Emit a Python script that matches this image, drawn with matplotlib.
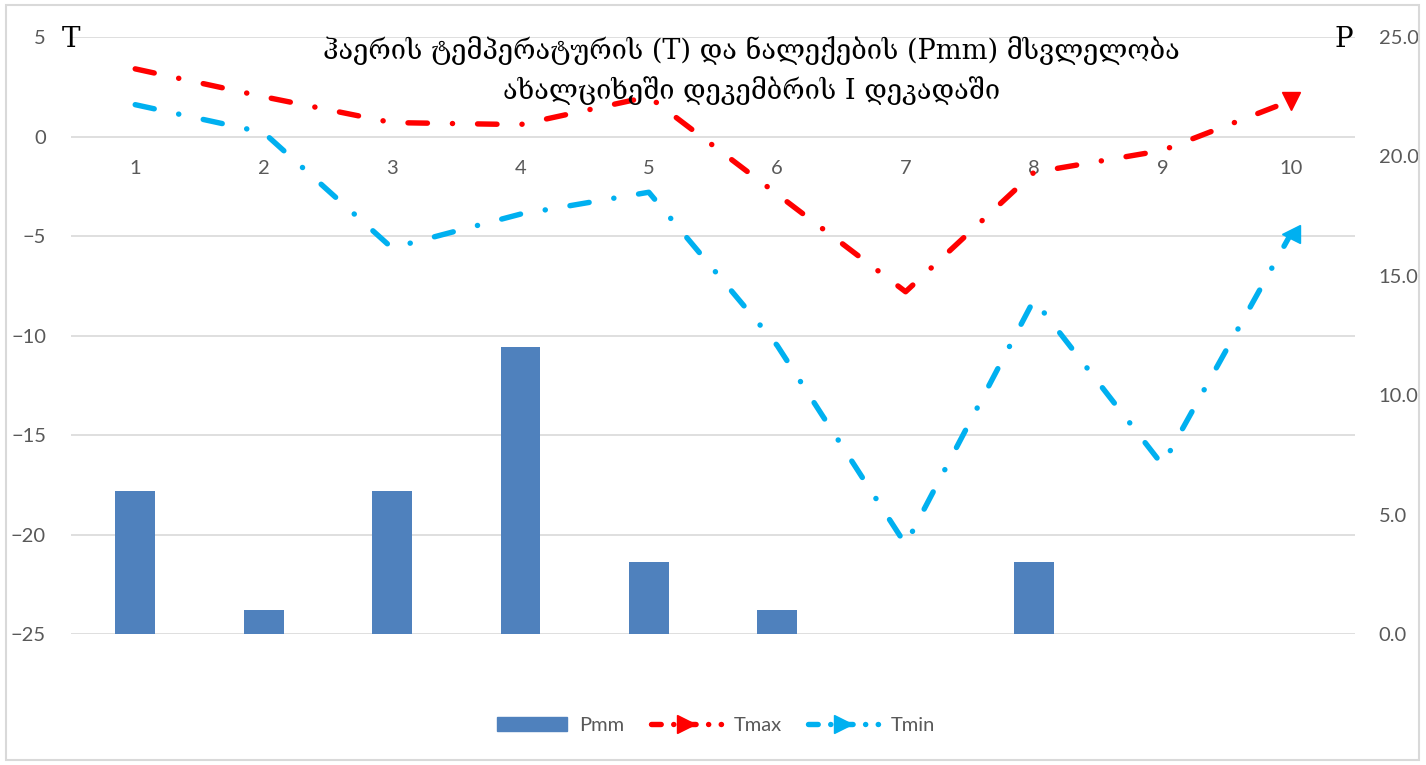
import matplotlib
matplotlib.use('Agg')
import matplotlib.pyplot as plt
import numpy as np
from matplotlib.lines import Line2D
from matplotlib.patches import Patch, Rectangle
from matplotlib.legend_handler import HandlerLine2D

# data
days = [1, 2, 3, 4, 5, 6, 7, 8, 9, 10]
pmm = [6.0, 1.0, 6.0, 12.0, 3.0, 1.0, 0.0, 3.0, 0.0, 0.0]
tmax = [3.4, 2.0, 0.7, 0.6, 2.0, -2.9, -7.8, -1.8, -0.7, 1.8]
tmin = [1.6, 0.2, -5.6, -3.9, -2.8, -10.5, -20.5, -8.2, -16.5, -4.9]
t_ticks = [5, 0, -5, -10, -15, -20, -25]
p_ticks = [0, 5, 10, 15, 20, 25]

title = 'ჰაერის ტემპერატურის (T) და ნალექების (Pmm) მსვლელობა\nახალციხეში დეკემბრის I დეკადაში'

plt.rcParams['font.family'] = ['Lato', 'DejaVu Sans']
plt.rcParams['lines.scale_dashes'] = False
grey = '#595959'
dash = (0, (14, 18, 0.1, 18))


class EndMarker(HandlerLine2D):
    # put the legend marker at the end of the line sample, like an arrow head
    def get_xdata(self, legend, xdescent, ydescent, width, height, fontsize):
        xdata, _ = super().get_xdata(legend, xdescent, ydescent, width, height, fontsize)
        return xdata, [xdata[-1]]


fig = plt.figure(figsize=(14.26, 7.65), dpi=100)
fig.patches.append(Rectangle((0.004, 0.006), 0.991, 0.988, transform=fig.transFigure,
                             fill=False, edgecolor='#d9d9d9', lw=1.5))

rect = [0.0498, 0.1712, 0.9004, 0.7804]
ax = fig.add_axes(rect)          # left T axis + grid, at the back
ax2 = ax.twinx()                 # right P axis with the bars
ax3 = fig.add_axes(rect, sharex=ax, sharey=ax)  # lines on top
ax3.patch.set_visible(False)
ax3.axis('off')

ax2.bar(days, pmm, width=0.31, color='#4F81BD', zorder=2)
ax2.set_ylim(0, 25)
ax2.set_yticks(p_ticks)
ax2.set_yticklabels(['%.1f' % v for v in p_ticks])

ax3.plot(days, tmax, color='#FF0000', lw=3.9, linestyle=dash, dash_capstyle='round',
         marker='v', markevery=[9], markersize=13)
ax3.plot(days, tmin, color='#00B0F0', lw=3.9, linestyle=dash, dash_capstyle='round',
         marker='<', markevery=[9], markersize=13)

ax.set_ylim(-25, 5)
ax.set_xlim(0.5, 10.5)
ax.set_yticks(t_ticks)
ax.set_xticks(days)
ax.grid(axis='y', color='#d9d9d9', lw=1.2)
ax.set_axisbelow(True)

ax.spines['bottom'].set_position(('data', 0))
for a in (ax, ax2):
    for s in a.spines.values():
        s.set_visible(False)
ax.tick_params(axis='both', length=0, labelsize=14.5, labelcolor=grey)
ax.tick_params(axis='x', pad=17)
ax.tick_params(axis='y', pad=18)
ax2.tick_params(axis='y', length=0, labelsize=14.5, labelcolor=grey, pad=17)

fig.text(0.527, 0.908, title, ha='center', va='center', fontsize=19.5, linespacing=1.5,
         family=['DejaVu Serif', 'DejaVu Sans'])
fig.text(0.043, 0.948, 'T', ha='left', va='center', fontsize=20, family='DejaVu Serif')
fig.text(0.936, 0.948, 'P', ha='left', va='center', fontsize=20, family='DejaVu Serif')

handles = [Patch(color='#4F81BD'),
           Line2D([], [], color='#FF0000', lw=3.9, linestyle=(0, (7, 9, 0.1, 9)),
                  dash_capstyle='round', marker='>', markersize=13),
           Line2D([], [], color='#00B0F0', lw=3.9, linestyle=(0, (7, 9, 0.1, 9)),
                  dash_capstyle='round', marker='>', markersize=13)]
leg = fig.legend(handles, ['Pmm', 'Tmax', 'Tmin'], loc='center', bbox_to_anchor=(0.502, 0.052),
                 ncol=3, frameon=False, fontsize=14.5, handlelength=3.5, handletextpad=0.6,
                 columnspacing=1.3,
                 handler_map={handles[1]: EndMarker(numpoints=1), handles[2]: EndMarker(numpoints=1)})
for t in leg.get_texts():
    t.set_color(grey)

fig.savefig('out.png', dpi=100)
